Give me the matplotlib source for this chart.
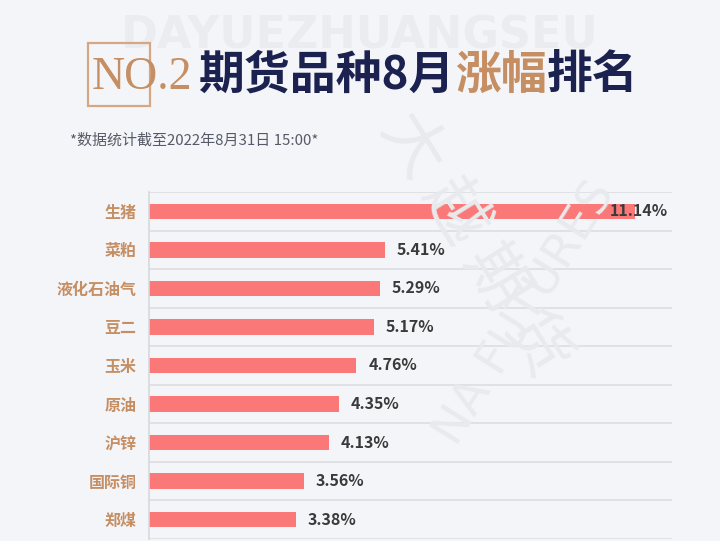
import matplotlib.pyplot as plt
from matplotlib.patches import Rectangle

plt.rcParams['font.family'] = ['Noto Sans CJK SC', 'DejaVu Sans']

# 期货品种8月涨幅 (%)
品种 = ['生猪', '菜粕', '液化石油气', '豆二', '玉米', '原油', '沪锌', '国际铜', '郑煤']
涨幅 = [11.14, 5.41, 5.29, 5.17, 4.76, 4.35, 4.13, 3.56, 3.38]

背景 = '#f4f5f9'
深蓝 = '#1b2250'
棕色 = '#c58e63'
红色 = '#fb7878'

fig = plt.figure(figsize=(7.2, 5.41), dpi=100, facecolor=背景)

# 水印
fig.text(0.5, 1 - 36 / 541, 'DAYUEZHUANGSEU', ha='center', va='center', fontsize=32,
         fontweight='bold', color='#ebecf0', family='DejaVu Sans', zorder=0)
fig.text(0.66, 0.55, '大 越 期 货', ha='center', va='center', fontsize=46, rotation=-58,
         color='#e9eaed', zorder=0)
fig.text(0.73, 0.42, 'NA FUTURES', ha='center', va='center', fontsize=34, rotation=58,
         color='#e9eaed', family='DejaVu Sans', zorder=0)

# 标题
fig.patches.append(Rectangle((88 / 720, 1 - 106 / 541), 62 / 720, 63 / 541,
                             transform=fig.transFigure, fill=False,
                             edgecolor='#d5a883', linewidth=1.6))
fig.text(92 / 720, 1 - 78 / 541, 'NO.2', ha='left', va='center', fontsize=33,
         color=棕色, family='Liberation Serif')
x0 = 199 / 720
for 文字, 颜色 in [('期货品种8月', 深蓝), ('涨幅', 棕色), ('排名', 深蓝)]:
    t = fig.text(x0, 1 - 76 / 541, 文字, ha='left', va='center', fontsize=33,
                 fontweight='bold', color=颜色)
    fig.canvas.draw()
    bb = t.get_window_extent()
    x0 = bb.x1 / 720

fig.text(70 / 720, 1 - 141 / 541, '*数据统计截至2022年8月31日 15:00*', ha='left', va='center',
         fontsize=10.8, color='#555a66')

ax = fig.add_axes([149 / 720, 2 / 541, 523 / 720, 347 / 541])
ax.set_facecolor('none')
y = list(range(len(品种)))
ax.barh(y, 涨幅, height=0.4, color=红色, zorder=2)
ax.set_xlim(0, 12)
ax.set_ylim(len(品种) - 0.5, -0.5)

for i in range(len(品种) + 1):
    ax.axhline(i - 0.5, color='#dcdde2', linewidth=1.2, zorder=1)

for i, v in enumerate(涨幅):
    if v + 0.3 > 11:
        ax.text(11.9, i, f'{v:.2f}%', ha='right', va='center', fontsize=11.5,
                fontweight='bold', color='#3a3a3a', zorder=3)
    else:
        ax.text(v + 0.27, i, f'{v:.2f}%', ha='left', va='center', fontsize=11.5,
                fontweight='bold', color='#3a3a3a', zorder=3)

ax.set_yticks(y)
ax.set_yticklabels(品种, fontsize=11.5, fontweight='bold', color=棕色)
ax.tick_params(axis='y', length=0, pad=9)
ax.set_xticks([])
for s in ['top', 'right', 'bottom']:
    ax.spines[s].set_visible(False)
ax.spines['left'].set_color('#d8d9de')
ax.spines['left'].set_linewidth(1.2)

fig.savefig('out.png', dpi=100, facecolor=背景)
